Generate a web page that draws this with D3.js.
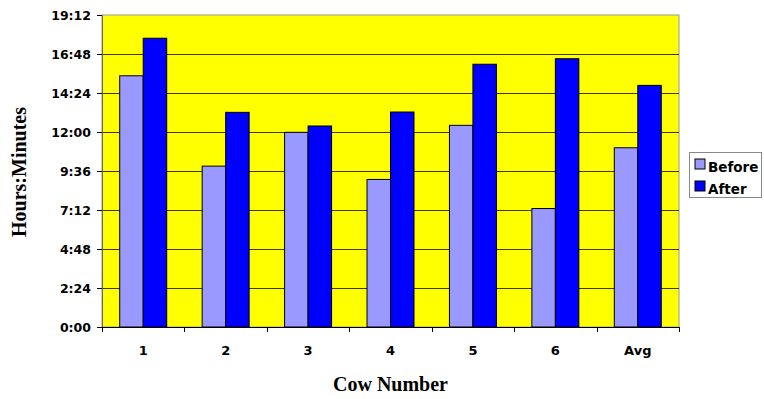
<!DOCTYPE html>
<html>
<head>
<meta charset="utf-8">
<script src="https://cdn.jsdelivr.net/npm/d3@7"></script>
<style>
  body { margin: 0; background: #fff; }
  svg { display: block; }
</style>
</head>
<body>
<div id="chart"></div>
<script>
// cow numbers and hours (decimal)
var cows = ["1", "2", "3", "4", "5", "6", "Avg"];
var series = ["Before", "After"];
var before = [15.46, 9.90, 11.98, 9.08, 12.41, 7.29, 11.03];
var after = [17.77, 13.21, 12.37, 13.23, 16.17, 16.51, 14.87];
var yTicks = [0, 2.4, 4.8, 7.2, 9.6, 12, 14.4, 16.8, 19.2];
var colors = ["#9999ff", "#0000ff"];

var width = 764, height = 399;
var margin = {top: 15, right: 85, bottom: 72, left: 102};
var w = width - margin.left - margin.right;
var h = height - margin.top - margin.bottom;

var data = cows.map(function(c, i) {
  return {cow: c, values: [before[i], after[i]]};
});

function hm(v) {
  var mins = Math.round(v * 60);
  var m = mins % 60;
  return Math.floor(mins / 60) + ":" + (m < 10 ? "0" : "") + m;
}

var x = d3.scaleBand()
    .domain(cows)
    .range([0, w])
    .padding(0);

var bw = x.bandwidth() * 0.285;
var x1 = d3.scaleBand()
    .domain(series)
    .range([x.bandwidth() / 2 - bw, x.bandwidth() / 2 + bw]);

var y = d3.scaleLinear()
    .domain([0, 19.2])
    .range([h, 0]);

var svg = d3.select("#chart").append("svg")
    .attr("width", width)
    .attr("height", height);

var g = svg.append("g")
    .attr("transform", "translate(" + margin.left + "," + margin.top + ")");

// plot background
g.append("rect")
    .attr("width", w)
    .attr("height", h)
    .attr("fill", "#ffff00")
    .attr("stroke", "#999")
    .attr("stroke-width", 1);

// gridlines
g.selectAll(".grid")
    .data(yTicks.filter(function(d) { return d > 0 && d < 19.2; }))
    .enter().append("line")
    .attr("class", "grid")
    .attr("x1", 0)
    .attr("x2", w)
    .attr("y1", function(d) { return Math.round(y(d)) + 0.5; })
    .attr("y2", function(d) { return Math.round(y(d)) + 0.5; })
    .attr("stroke", "#3a3a00")
    .attr("stroke-width", 1);

// bars
var groups = g.selectAll(".cow")
    .data(data)
    .enter().append("g")
    .attr("class", "cow")
    .attr("transform", function(d) { return "translate(" + x(d.cow) + ",0)"; });

groups.selectAll("rect")
    .data(function(d) { return d.values.map(function(v, i) { return {s: series[i], v: v, i: i}; }); })
    .enter().append("rect")
    .attr("x", function(d) { return x1(d.s); })
    .attr("y", function(d) { return y(d.v); })
    .attr("width", x1.bandwidth())
    .attr("height", function(d) { return h - y(d.v); })
    .attr("fill", function(d) { return colors[d.i]; })
    .attr("stroke", "#000")
    .attr("stroke-width", 1);

// axes
var yAxis = d3.axisLeft(y)
    .tickValues(yTicks)
    .tickFormat(hm)
    .tickSize(5)
    .tickPadding(6);

var xAxis = d3.axisBottom(x)
    .tickSize(0)
    .tickPadding(19);

var gy = g.append("g").call(yAxis);
gy.select(".domain").attr("stroke", "#666");
gy.selectAll(".tick line").attr("stroke", "#000");
gy.selectAll(".tick text")
    .style("font-family", "'DejaVu Sans', sans-serif")
    .style("font-weight", "bold")
    .style("font-size", "12.5px")
    .attr("fill", "#000");

var gx = g.append("g")
    .attr("transform", "translate(0," + h + ")")
    .call(xAxis);
gx.select(".domain").attr("stroke", "#000");
gx.selectAll(".tick text")
    .style("font-family", "'DejaVu Sans', sans-serif")
    .style("font-weight", "bold")
    .style("font-size", "13px")
    .attr("fill", "#000");

// x tick marks between categories
g.selectAll(".xtick")
    .data(cows.concat(["end"]))
    .enter().append("line")
    .attr("class", "xtick")
    .attr("x1", function(d, i) { return Math.round(i * x.step()) + 0.5; })
    .attr("x2", function(d, i) { return Math.round(i * x.step()) + 0.5; })
    .attr("y1", h)
    .attr("y2", h + 5)
    .attr("stroke", "#000");

// axis titles
svg.append("text")
    .attr("x", margin.left + w / 2)
    .attr("y", 391)
    .attr("text-anchor", "middle")
    .style("font-family", "'Liberation Serif', serif")
    .style("font-weight", "bold")
    .style("font-size", "20px")
    .text("Cow Number");

svg.append("text")
    .attr("transform", "translate(26,172) rotate(-90)")
    .attr("text-anchor", "middle")
    .style("font-family", "'Liberation Serif', serif")
    .style("font-weight", "bold")
    .style("font-size", "20px")
    .text("Hours:Minutes");

// legend
var legend = svg.append("g")
    .attr("transform", "translate(689,152)");

legend.append("rect")
    .attr("x", 0.5)
    .attr("y", 0.5)
    .attr("width", 72)
    .attr("height", 45)
    .attr("fill", "#fff")
    .attr("stroke", "#888");

var items = legend.selectAll(".item")
    .data(series)
    .enter().append("g")
    .attr("class", "item")
    .attr("transform", function(d, i) { return "translate(6," + (7 + i * 22) + ")"; });

items.append("rect")
    .attr("width", 10)
    .attr("height", 10)
    .attr("fill", function(d, i) { return colors[i]; })
    .attr("stroke", "#000");

items.append("text")
    .attr("x", 13)
    .attr("y", 13)
    .style("font-family", "'DejaVu Sans', sans-serif")
    .style("font-weight", "bold")
    .style("font-size", "13.5px")
    .text(function(d) { return d; });
</script>
</body>
</html>
